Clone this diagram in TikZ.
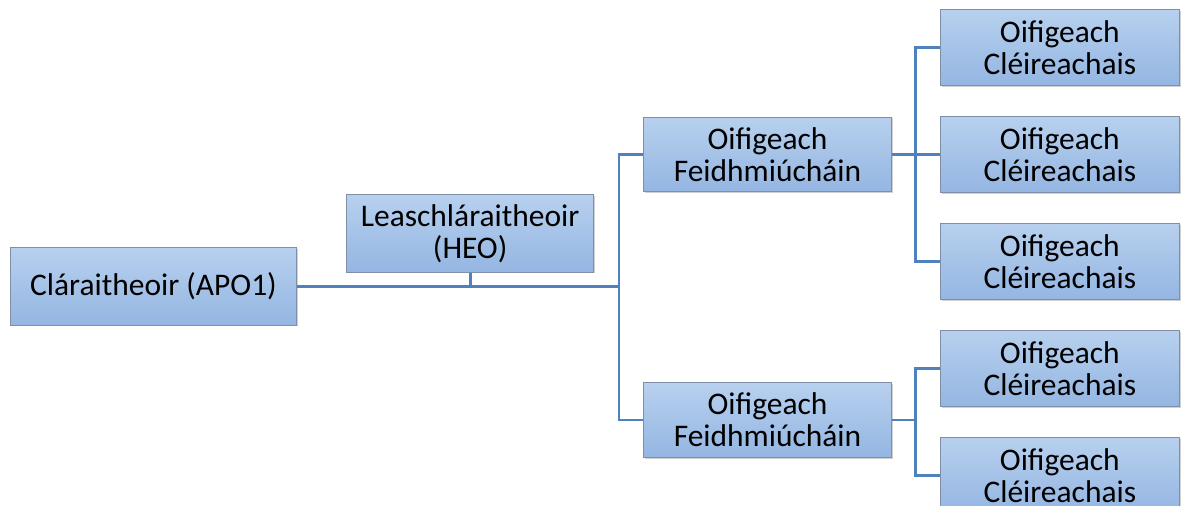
\documentclass[tikz,border=0pt]{standalone}
\usepackage{fontspec}
\setmainfont{Carlito}
\usepackage{xcolor}
\usetikzlibrary{
    positioning,
    shadows
}

\definecolor{boxtop}{HTML}{B7D0EE}
\definecolor{boxbot}{HTML}{94B6E2}
\definecolor{boxline}{HTML}{7F8FA5}
\definecolor{linkblue}{HTML}{4F81BD}

\begin{document}
\begin{tikzpicture}[
    node distance=22.5pt and 36pt,
    box/.style={
        draw=boxline,
        line width=0.75pt,
        align=center,
        top color=boxtop,
        bottom color=boxbot,
        inner sep=0pt,
        font=\fontsize{23.6}{24}\selectfont,
        drop shadow={shadow xshift=1pt, shadow yshift=-1pt, opacity=0.3, fill=black!60}
    },
    head/.style={
        box,
        minimum width=215pt,
        minimum height=58pt
    },
    deputy/.style={
        box,
        minimum width=185pt,
        minimum height=58pt
    },
    exec/.style={
        box,
        minimum width=186pt,
        minimum height=56pt
    },
    clerk/.style={
        box,
        minimum width=179pt,
        minimum height=57pt
    },
    link/.style={draw=linkblue, line width=2pt}
]

\useasboundingbox (-115.125pt,-164.625pt) rectangle (771.375pt,214.875pt);

\node[head] (clar) {Cláraitheoir (APO1)};

\node[deputy, right=36.75pt of clar, yshift=39.75pt] (leas)
{Leaschláraitheoir\\(HEO)};

\node[exec, right=36.75pt of leas, yshift=59.25pt] (feid1)
{Oifigeach\\Feidhmiúcháin};

\node[exec, below=142.5pt of feid1] (feid2)
{Oifigeach\\Feidhmiúcháin};

\node[clerk, right=of feid1] (clr2) {Oifigeach\\Cléireachais};
\node[clerk, above=of clr2] (clr1) {Oifigeach\\Cléireachais};
\node[clerk, below=of clr2] (clr3) {Oifigeach\\Cléireachais};
\node[clerk, below=of clr3] (clr4) {Oifigeach\\Cléireachais};
\node[clerk, below=of clr4] (clr5) {Oifigeach\\Cléireachais};

\coordinate[left=18pt of feid1.west] (t1);
\coordinate[right=17.5pt of feid1.east] (t2);
\coordinate[right=17.5pt of feid2.east] (t3);

\draw[link] (clar.east) -- (clar.east -| t1);
\draw[link] (leas.south) -- (leas.south |- clar.east);
\draw[link] (feid1.west) -- (t1) |- (feid2.west);

\draw[link] (feid1.east) -- (clr2.west);
\draw[link] (clr1.west) -| (t2) |- (clr3.west);

\draw[link] (feid2.east) -- (t3);
\draw[link] (clr4.west) -| (t3) |- (clr5.west);

\end{tikzpicture}
\end{document}
